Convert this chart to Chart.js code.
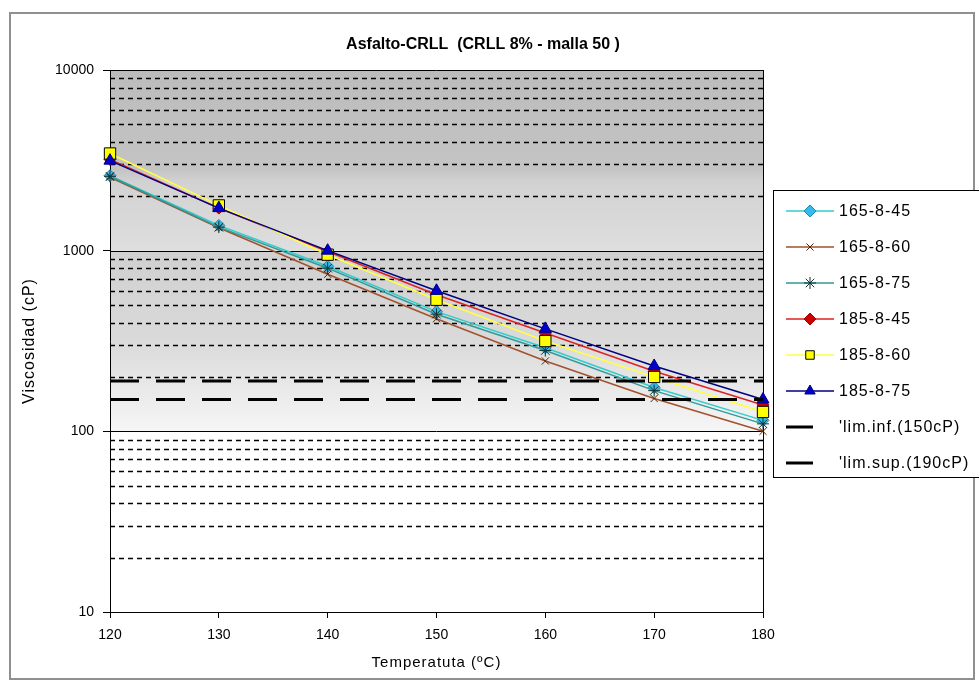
<!DOCTYPE html>
<html>
<head>
<meta charset="utf-8">
<script src="https://cdn.jsdelivr.net/npm/chart.js"></script>
<style>
  html, body { margin: 0; padding: 0; background: #fff; }
  #wrap { width: 979px; height: 683px; }
</style>
</head>
<body>
<div id="wrap"><canvas id="chart" width="979" height="683"></canvas></div>
<script>
// data
const temps = [120, 130, 140, 150, 160, 170, 180];
const s165_8_45 = [2600, 1380, 820, 460, 290, 175, 115];
const s165_8_60 = [2550, 1340, 740, 420, 245, 152, 100];
const s165_8_75 = [2580, 1350, 800, 445, 280, 168, 110];
const s185_8_45 = [3200, 1720, 990, 570, 350, 215, 140];
const s185_8_60 = [3450, 1780, 950, 535, 316, 200, 128];
const s185_8_75 = [3150, 1720, 1000, 600, 369, 230, 150];
const limInf = [150, 150, 150, 150, 150, 150, 150];
const limSup = [190, 190, 190, 190, 190, 190, 190];

const yTicks = [10, 100, 1000, 10000];
const yMinorGrid = [20, 30, 40, 50, 60, 70, 80, 90,
                    200, 300, 400, 500, 600, 700, 800, 900,
                    2000, 3000, 4000, 5000, 6000, 7000, 8000, 9000];
const xTicks = [120, 130, 140, 150, 160, 170, 180];

const chartTitle = 'Asfalto-CRLL  (CRLL 8% - malla 50 )';
const xTitle = 'Temperatuta (ºC)';
const yTitle = 'Viscosidad (cP)';

const FONT = '"Liberation Sans", Arial, sans-serif';

function series(label, values, line, pt, style, radius, ptBorder) {
    return {
        label: label,
        data: temps.map((t, i) => ({ x: t, y: values[i] })),
        borderColor: line,
        borderWidth: 1.5,
        backgroundColor: pt,
        pointBackgroundColor: pt,
        pointBorderColor: ptBorder,
        pointBorderWidth: 1,
        pointStyle: style,
        pointRadius: radius,
        clip: false,
        tension: 0
    };
}

const datasets = [
    series('165-8-45', s165_8_45, '#33cccc', '#33bbee', 'rectRot', 6, '#2288aa'),
    series('165-8-60', s165_8_60, '#a0522d', '#552200', 'crossRot', 5, '#552200'),
    series('165-8-75', s165_8_75, '#339999', '#113333', 'star', 6, '#113333'),
    series('185-8-45', s185_8_45, '#dd2222', '#cc0000', 'rectRot', 6, '#aa0000'),
    series('185-8-60', s185_8_60, '#ffff44', '#ffff00', 'rect', 8, '#000000'),
    series('185-8-75', s185_8_75, '#000080', '#0000cc', 'triangle', 7, '#000080'),
    {
        label: "'lim.inf.(150cP)",
        data: temps.map((t, i) => ({ x: t, y: limInf[i] })),
        borderColor: '#000000', borderWidth: 3, borderDash: [29, 17],
        pointRadius: 0, pointStyle: false
    },
    {
        label: "'lim.sup.(190cP)",
        data: temps.map((t, i) => ({ x: t, y: limSup[i] })),
        borderColor: '#000000', borderWidth: 3, borderDash: [29, 17],
        pointRadius: 0, pointStyle: false
    }
];
// later series drawn on top, like the original
datasets.forEach((d, i) => { d.order = datasets.length - i; });

const backgroundPlugin = {
    id: 'backgroundPlugin',
    beforeDraw(chart) {
        const ctx = chart.ctx;
        const a = chart.chartArea;
        const y = chart.scales.y;
        ctx.save();
        ctx.fillStyle = '#ffffff';
        ctx.fillRect(0, 0, chart.width, chart.height);
        // outer frame
        ctx.strokeStyle = '#909090';
        ctx.lineWidth = 2;
        ctx.strokeRect(10, 13, 964, 666);
        // plot area shading
        const top = y.getPixelForValue(10000);
        const mid = y.getPixelForValue(1000);
        const low = y.getPixelForValue(100);
        const g1 = ctx.createLinearGradient(0, top, 0, mid);
        g1.addColorStop(0, '#bcbcbc');
        g1.addColorStop(0.55, '#c4c4c4');
        g1.addColorStop(0.62, '#d2d2d2');
        g1.addColorStop(1, '#dedede');
        ctx.fillStyle = g1;
        ctx.fillRect(a.left, top, a.right - a.left, mid - top);
        const g2 = ctx.createLinearGradient(0, mid, 0, low);
        g2.addColorStop(0, '#d0d0d0');
        g2.addColorStop(0.5, '#dadada');
        g2.addColorStop(1, '#f6f6f6');
        ctx.fillStyle = g2;
        ctx.fillRect(a.left, mid, a.right - a.left, low - mid);
        ctx.restore();
    },
    beforeDatasetsDraw(chart) {
        const ctx = chart.ctx;
        const a = chart.chartArea;
        const y = chart.scales.y;
        ctx.save();
        ctx.strokeStyle = '#000000';
        ctx.lineWidth = 1.3;
        ctx.setLineDash([5, 4]);
        yMinorGrid.forEach(v => {
            const py = Math.round(y.getPixelForValue(v)) + 0.5;
            ctx.beginPath();
            ctx.moveTo(a.left, py);
            ctx.lineTo(a.right, py);
            ctx.stroke();
        });
        ctx.setLineDash([]);
        ctx.lineWidth = 1;
        yTicks.forEach(v => {
            const py = Math.round(y.getPixelForValue(v)) + 0.5;
            ctx.beginPath();
            ctx.moveTo(a.left, py);
            ctx.lineTo(a.right, py);
            ctx.stroke();
        });
        ctx.beginPath();
        ctx.moveTo(Math.round(a.right) + 0.5, a.top);
        ctx.lineTo(Math.round(a.right) + 0.5, a.bottom);
        ctx.stroke();
        ctx.restore();
    }
};

const textPlugin = {
    id: 'textPlugin',
    afterDraw(chart) {
        const ctx = chart.ctx;
        const a = chart.chartArea;
        ctx.save();
        ctx.fillStyle = '#000000';
        ctx.textAlign = 'center';
        ctx.textBaseline = 'middle';
        ctx.font = 'bold 16px ' + FONT;
        ctx.fillText(chartTitle, 483, 45);
        ctx.letterSpacing = '1px';
        ctx.font = '15px ' + FONT;
        ctx.fillText(xTitle, (a.left + a.right) / 2, 663);
        ctx.font = '16px ' + FONT;
        ctx.translate(30, (a.top + a.bottom) / 2);
        ctx.rotate(-Math.PI / 2);
        ctx.fillText(yTitle, 0, 0);
        ctx.restore();
    }
};

const legendPlugin = {
    id: 'legendPlugin',
    afterDraw(chart) {
        const ctx = chart.ctx;
        const boxX = 773, boxY = 190, boxW = 220, boxH = 287;
        ctx.save();
        ctx.fillStyle = '#ffffff';
        ctx.fillRect(boxX, boxY, boxW, boxH);
        ctx.strokeStyle = '#000000';
        ctx.lineWidth = 1;
        ctx.strokeRect(boxX + 0.5, boxY + 0.5, boxW, boxH);
        ctx.font = '16px ' + FONT;
        ctx.letterSpacing = '1px';
        ctx.textBaseline = 'middle';
        chart.data.datasets.forEach((ds, i) => {
            const cy = 211 + i * 36;
            ctx.save();
            if (ds.pointStyle) {
                ctx.strokeStyle = ds.borderColor;
                ctx.lineWidth = ds.borderWidth;
                ctx.beginPath();
                ctx.moveTo(786, cy);
                ctx.lineTo(834, cy);
                ctx.stroke();
                ctx.fillStyle = ds.pointBackgroundColor;
                ctx.strokeStyle = ds.pointBorderColor;
                ctx.lineWidth = ds.pointBorderWidth;
                if (Chart.helpers && Chart.helpers.drawPoint) {
                    Chart.helpers.drawPoint(ctx, {
                        pointStyle: ds.pointStyle, rotation: 0,
                        radius: Math.min(ds.pointRadius, 6), borderWidth: ds.pointBorderWidth
                    }, 810, cy);
                } else {
                    ctx.beginPath();
                    ctx.arc(810, cy, 4, 0, Math.PI * 2);
                    ctx.fill();
                    ctx.stroke();
                }
            } else {
                ctx.strokeStyle = '#000000';
                ctx.lineWidth = 3;
                ctx.beginPath();
                ctx.moveTo(786, cy);
                ctx.lineTo(813, cy);
                ctx.stroke();
            }
            ctx.restore();
            ctx.fillStyle = '#000000';
            ctx.fillText(ds.label, 839, cy + 1);
        });
        ctx.restore();
    }
};

new Chart(document.getElementById('chart'), {
    type: 'line',
    data: { datasets: datasets },
    options: {
        responsive: false,
        animation: false,
        layout: { padding: { left: 10, right: 216, top: 70, bottom: 11 } },
        plugins: {
            legend: { display: false },
            tooltip: { enabled: false },
            title: { display: false }
        },
        scales: {
            x: {
                type: 'linear',
                min: 120,
                max: 180,
                afterBuildTicks(scale) { scale.ticks = xTicks.map(v => ({ value: v })); },
                afterFit(scale) { scale.height = 60; },
                grid: { display: true, drawOnChartArea: false, tickLength: 6, color: '#000000' },
                border: { color: '#000000', width: 1 },
                ticks: { color: '#000000', font: { family: FONT, size: 14 }, padding: 9, maxRotation: 0 }
            },
            y: {
                type: 'logarithmic',
                min: 10,
                max: 10000,
                afterBuildTicks(scale) { scale.ticks = yTicks.map(v => ({ value: v })); },
                afterFit(scale) { scale.width = 100; },
                grid: { display: true, drawOnChartArea: false, tickLength: 7, color: '#000000' },
                border: { color: '#000000', width: 1 },
                ticks: {
                    color: '#000000',
                    font: { family: FONT, size: 14 },
                    padding: 9,
                    callback: v => String(v)
                }
            }
        }
    },
    plugins: [backgroundPlugin, textPlugin, legendPlugin]
});
</script>
</body>
</html>
